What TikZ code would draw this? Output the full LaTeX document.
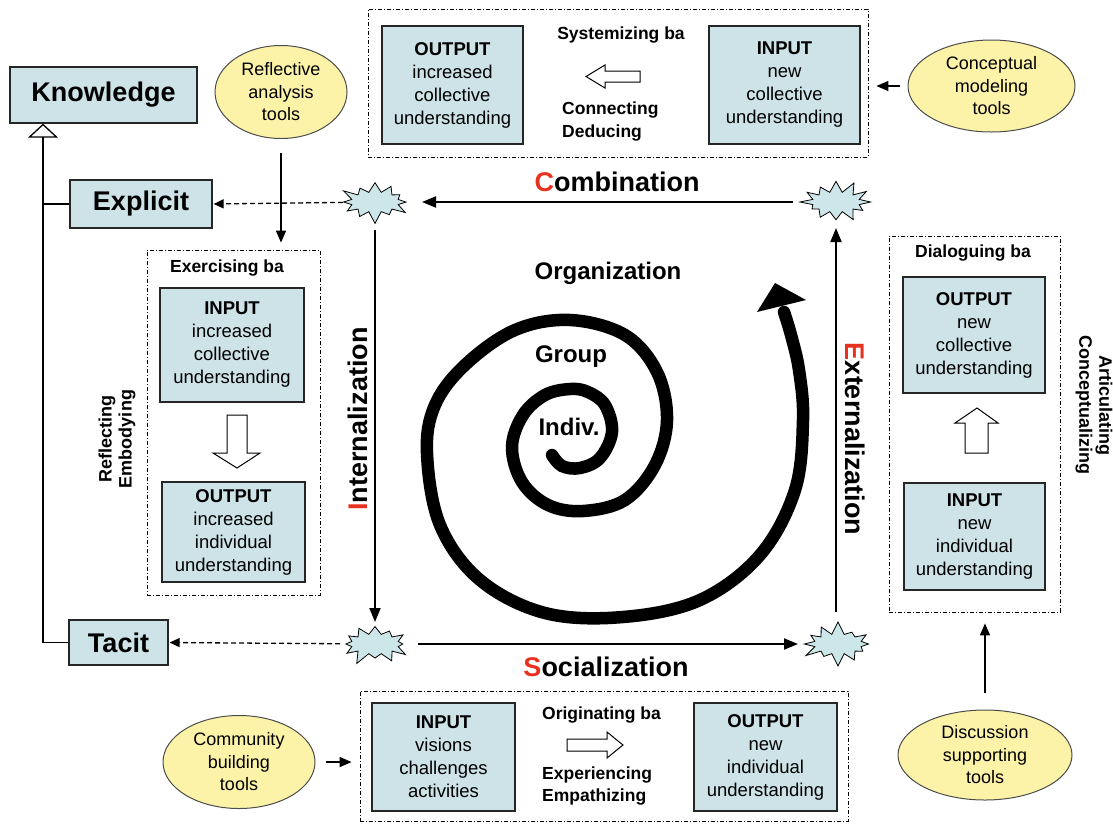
\documentclass[tikz,border=0pt]{standalone}
\usepackage{fontspec}
\setmainfont{Liberation Sans}
\usetikzlibrary{arrows.meta,shapes.geometric,shapes.symbols,calc}
\definecolor{boxfill}{RGB}{205,227,232}
\definecolor{ellfill}{RGB}{252,243,168}
\definecolor{starfill}{RGB}{205,230,234}
\definecolor{modered}{RGB}{232,49,30}
\tikzset{
  infobox/.style={draw=black!85, line width=1.3pt, fill=boxfill, align=center, inner sep=0pt, font=\fontsize{18.5}{23}\selectfont},
  bigbox/.style={draw=black!85, line width=1.3pt, fill=boxfill, inner sep=0pt, font=\fontsize{27}{30}\selectfont\bfseries},
  tool/.style={ellipse, draw=black!70, line width=1pt, fill=ellfill, align=center, inner sep=0pt, font=\fontsize{18}{22.5}\selectfont},
  baframe/.style={draw, line width=0.8pt, dash pattern=on 4pt off 2pt on 1pt off 2pt, inner sep=0pt},
  balabel/.style={font=\fontsize{17.5}{22.5}\selectfont\bfseries, inner sep=0pt},
  sidelabel/.style={font=\fontsize{18}{20}\selectfont\bfseries, align=center, inner sep=0pt},
  burst/.style={starburst, draw, fill=starfill, line width=0.8pt, minimum width=74pt, minimum height=46pt, starburst points=12, starburst point height=13pt, inner sep=0pt},
  mode/.style={font=\fontsize{27}{30}\selectfont\bfseries, inner sep=0pt},
  spirallabel/.style={font=\fontsize{24}{28}\selectfont\bfseries, inner sep=0pt},
  cyc/.style={line width=2pt, -{Triangle[length=14pt,width=11pt]}},
  toolarrow/.style={line width=1.5pt, -{Triangle[length=12pt,width=10pt]}},
  dasharrow/.style={line width=1.3pt, dash pattern=on 5pt off 3pt, -{Triangle[length=10pt,width=9pt]}},
  hollow/.style={draw, line width=1pt, fill=white},
  tree/.style={line width=1.3pt},
}
\begin{document}
\begin{tikzpicture}[x=1pt,y=-1pt]
\useasboundingbox (0,0) rectangle (1113,823);

% ---- ba frames ----
\node[baframe, minimum width=500pt, minimum height=148pt] (topFrame) at (618,83) {};
\node[baframe, minimum width=173pt, minimum height=345pt] (exFrame) at (233.5,422.5) {};
\node[baframe, minimum width=171pt, minimum height=376pt] (diFrame) at (974.5,424) {};
\node[baframe, minimum width=488pt, minimum height=130pt] (orFrame) at (604,756) {};

% ---- top: systemizing ----
\node[infobox, minimum width=141pt, minimum height=118pt] (tOut) at (452.5,85) {\textbf{OUTPUT}\\increased\\collective\\understanding};
\node[infobox, minimum width=151pt, minimum height=118pt] (tIn) at (784.5,85) {\textbf{INPUT}\\new\\collective\\understanding};
\node[balabel] (tLab) at (621,35) {Systemizing ba};
\node[balabel, anchor=west, align=left] (tVerb) at (562,121.5) {Connecting\\Deducing};
\draw[hollow] (640,71) -- (605,71) -- (605,65) -- (586,76.5) -- (605,88) -- (605,82) -- (640,82) -- cycle;

% ---- left: exercising ----
\node[balabel] (eLab) at (227,268) {Exercising ba};
\node[infobox, minimum width=144pt, minimum height=114pt] (eIn) at (232,345) {\textbf{INPUT}\\increased\\collective\\understanding};
\node[infobox, minimum width=143pt, minimum height=100pt] (eOut) at (233.5,532) {\textbf{OUTPUT}\\increased\\individual\\understanding};
\draw[hollow] (227,415) -- (247,415) -- (247,453) -- (260,453) -- (237,468) -- (213,453) -- (227,453) -- cycle;
\node[sidelabel, rotate=90] (eVerb) at (117,439) {Reflecting\\Embodying};

% ---- right: dialoguing ----
\node[balabel] (dLab) at (973,253) {Dialoguing ba};
\node[infobox, minimum width=142pt, minimum height=116pt] (dOut) at (974,335) {\textbf{OUTPUT}\\new\\collective\\understanding};
\node[infobox, minimum width=141pt, minimum height=107pt] (dIn) at (974.5,536.5) {\textbf{INPUT}\\new\\individual\\understanding};
\draw[hollow] (965,453) -- (988,453) -- (988,423) -- (998,423) -- (977,408) -- (955,423) -- (965,423) -- cycle;
\node[sidelabel, rotate=-90] (dVerb) at (1094,405) {Articulating\\Conceptualizing};

% ---- bottom: originating ----
\node[infobox, minimum width=143pt, minimum height=108pt] (sIn) at (443.5,757) {\textbf{INPUT}\\visions\\challenges\\activities};
\node[infobox, minimum width=143pt, minimum height=108pt] (sOut) at (765.5,757) {\textbf{OUTPUT}\\new\\individual\\understanding};
\node[balabel, anchor=west] (oLab) at (542,715) {Originating ba};
\node[balabel, anchor=west, align=left] (oVerb) at (542,786) {Experiencing\\Empathizing};
\draw[hollow] (567,739) -- (607,739) -- (607,732) -- (623,745) -- (607,758) -- (607,751) -- (567,751) -- cycle;

% ---- tools ----
\node[tool, minimum width=132pt, minimum height=93pt] (refl) at (281,92) {Reflective\\analysis\\tools};
\node[tool, minimum width=167pt, minimum height=92pt] (conc) at (991.5,86) {Conceptual\\modeling\\tools};
\node[tool, minimum width=152pt, minimum height=93pt] (comm) at (239,762) {Community\\building\\tools};
\node[tool, minimum width=174pt, minimum height=90pt] (disc) at (985,755) {Discussion\\supporting\\tools};

\draw[toolarrow, shorten <=14pt, shorten >=7pt] (refl.south) -- (refl.south |- exFrame.north);
\draw[toolarrow, shorten <=8pt, shorten >=8pt] (conc.west) -- (conc.west -| topFrame.east);
\draw[toolarrow, shorten <=10pt, shorten >=8pt] (comm.east) -- (comm.east -| orFrame.west);
\draw[toolarrow, shorten <=17pt, shorten >=11pt] (disc.north) -- (disc.north |- diFrame.south);

% ---- knowledge hierarchy ----
\node[bigbox, minimum width=187pt, minimum height=56pt] (know) at (103.5,95) {Knowledge};
\node[bigbox, minimum width=142pt, minimum height=48pt] (expl) at (141,204) {Explicit};
\node[bigbox, minimum width=99pt, minimum height=45pt] (tacit) at (118.5,642.5) {Tacit};
\coordinate (trunk) at (43,642.5);
\draw[tree] (tacit.west) -- (trunk);
\draw[tree, -{Triangle[open, length=14pt, width=30pt]}] (trunk) -- (trunk |- know.south);
\draw[tree] (expl.west) -- (expl.west -| trunk);

% ---- bursts ----
\node[burst] (sTL) at (375,202) {};
\node[burst, random starburst=37] (sTR) at (836,202) {};
\node[burst, random starburst=71] (sBL) at (375,644) {};
\node[burst, random starburst=53] (sBR) at (838,644) {};

% ---- cycle arrows ----
\draw[cyc, shorten <=43pt, shorten >=47pt] (sTR.center) -- (sTL.center);
\draw[cyc, shorten <=28pt, shorten >=22pt] (sTL.center) -- (sBL.center);
\draw[cyc, shorten <=43pt, shorten >=40pt] (sBL.center) -- (sBR.center);
\draw[cyc, shorten <=32pt, shorten >=26pt] (sBR.center -| sTR.center) -- (sTR.center);
\draw[dasharrow, shorten <=32pt, shorten >=1pt] (sTL.center) -- (expl.east);
\draw[dasharrow, shorten <=35pt, shorten >=1pt] (sBL.center) -- (tacit.east);

% ---- mode labels ----
\node[mode] (lComb) at (617,182) {{\color{modered}C}ombination};
\node[mode] (lSoc) at (606,667) {{\color{modered}S}ocialization};
\node[mode, rotate=90] (lInt) at (358,419) {{\color{modered}I}nternalization};
\node[mode, rotate=-90] (lExt) at (855,439) {{\color{modered}E}xternalization};

% ---- spiral ----
\draw[line width=12.5pt, line cap=round] plot[smooth, tension=0.6] coordinates {
 (552,455) (562,466) (580,468) (600,458) (612,432) (605,405) (588,392) (570,389)
 (545,395) (523,415) (512,447) (522,482) (548,505) (583,511) (625,500) (655,465)
 (667,420) (657,372) (625,335) (570,320) (515,330) (465,365) (435,405) (427,453)
 (440,525) (480,580) (545,613) (623,617) (700,600) (760,555) (795,490) (803,420)
 (799,370) (791,335) (784,312)};
\fill (775,283) -- (806,300) -- (757,312) -- cycle;
\node[spirallabel] (lOrg) at (608,273) {Organization};
\node[spirallabel] (lGrp) at (571,357) {Group};
\node[spirallabel] (lInd) at (569,427) {Indiv.};
\end{tikzpicture}
\end{document}
